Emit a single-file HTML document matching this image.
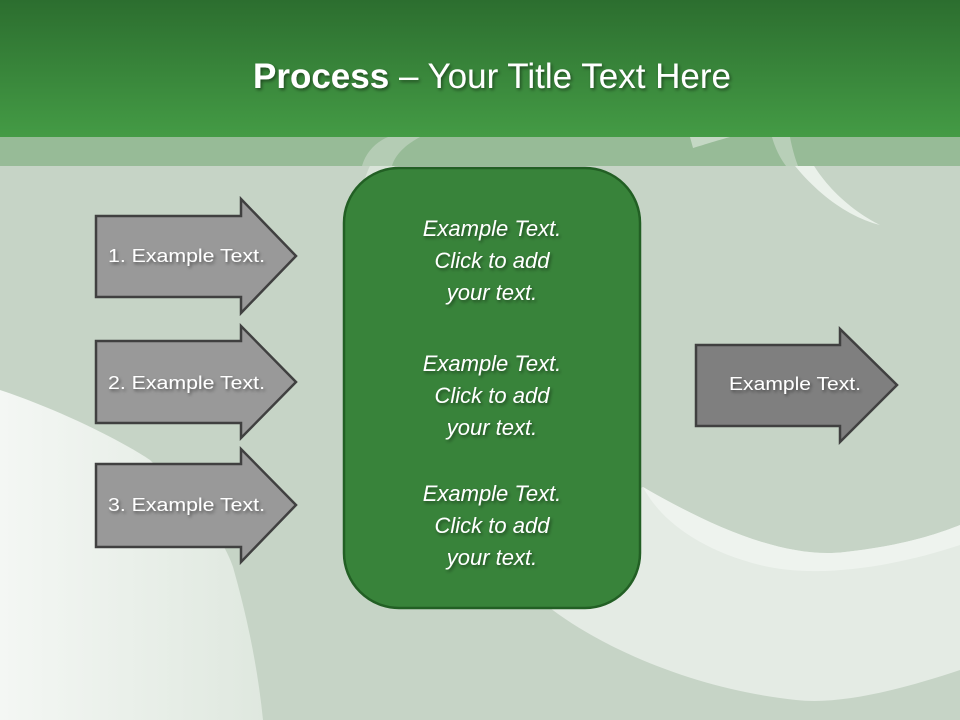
<!DOCTYPE html>
<html><head><meta charset="utf-8"><style>
html,body{margin:0;padding:0;width:960px;height:720px;overflow:hidden;font-family:"Liberation Sans",sans-serif}
svg{display:block}
</style></head><body>
<svg width="960" height="720" viewBox="0 0 960 720" xmlns="http://www.w3.org/2000/svg">
<defs>
<linearGradient id="hd" x1="0" y1="0" x2="0" y2="1"><stop offset="0" stop-color="#2c6e2f"/><stop offset="1" stop-color="#449b45"/></linearGradient>
<linearGradient id="wl" x1="0" y1="0" x2="1" y2="0"><stop offset="0" stop-color="#f4f7f4"/><stop offset="1" stop-color="#dfe8df"/></linearGradient>
<filter id="sh" x="-10%" y="-10%" width="130%" height="140%"><feDropShadow dx="1.5" dy="2" stdDeviation="1.5" flood-color="#000" flood-opacity="0.45"/></filter>
</defs>
<rect width="960" height="720" fill="#c6d4c6"/>
<!-- left swoosh -->
<path d="M0 390 C60 410 120 440 150 460 C190 500 220 530 233 567 C248 620 258 670 263 720 L0 720 Z" fill="url(#wl)"/>
<!-- bottom right swoosh -->
<path d="M540 600 C580 560 610 500 643 487 C700 520 780 560 845 552 C900 546 935 535 960 525 L960 670 C900 690 840 705 796 700 C700 690 600 650 540 600 Z" fill="#e4ebe4"/>
<path d="M643 487 C700 520 780 560 845 552 C900 546 935 535 960 525 L960 545 C900 565 820 580 760 565 C700 550 660 520 643 487Z" fill="#eef3ee"/>
<!-- top right swoosh -->
<path d="M775 137 L800 137 C815 180 850 210 880 225 C840 215 800 180 775 137Z" fill="#eaf1ea"/>
<path d="M360 200 C365 170 375 150 395 137 L420 137 C395 160 385 180 380 205Z" fill="#d9e4d9"/>
<!-- header -->
<rect width="960" height="137" fill="url(#hd)"/>
<rect y="137" width="960" height="29" fill="#97bb97"/>
<path d="M362 166 C366 152 376 142 388 137 L420 137 C405 145 395 155 392 166Z" fill="#b4ccb4"/>
<path d="M690 137 L730 137 C712 142 700 146 693 148Z" fill="#c4d8c4"/>
<path d="M772 137 L790 137 C792 148 795 158 798 166 L786 166 C780 158 775 148 772 137Z" fill="#b8cfb8"/>
<text x="492" y="88" text-anchor="middle" fill="#fff" font-size="35" filter="url(#sh)"><tspan font-weight="bold">Process</tspan> – Your Title Text Here</text>
<!-- arrows -->
<g stroke="#404040" stroke-width="2.5" fill="#999">
<path d="M96 216 H241 V199 L296 256 L241 313 V297 H96Z"/>
<path d="M96 341 H241 V326 L296 382 L241 438 V423 H96Z"/>
<path d="M96 464 H241 V449 L296 505 L241 562 V547 H96Z"/>
<path d="M696 345 H840 V329 L897 385 L840 442 V426 H696Z" fill="#7f7f7f"/>
</g>
<g fill="#fff" font-size="18" filter="url(#sh)">
<text x="108" y="262" textLength="157" lengthAdjust="spacingAndGlyphs">1. Example Text.</text>
<text x="108" y="389" textLength="157" lengthAdjust="spacingAndGlyphs">2. Example Text.</text>
<text x="108" y="511" textLength="157" lengthAdjust="spacingAndGlyphs">3. Example Text.</text>
<text x="729" y="390" textLength="132" lengthAdjust="spacingAndGlyphs">Example Text.</text>
</g>
<!-- center box -->
<rect x="344" y="168" width="296" height="440" rx="55" ry="55" fill="#38833a" stroke="#225f24" stroke-width="2.5"/>
<g fill="#fff" font-size="22" font-style="italic" text-anchor="middle" filter="url(#sh)">
<text x="492" y="236">Example Text.</text><text x="492" y="268">Click  to add</text><text x="492" y="300">your text.</text>
<text x="492" y="371">Example Text.</text><text x="492" y="403">Click  to add</text><text x="492" y="435">your text.</text>
<text x="492" y="501">Example Text.</text><text x="492" y="533">Click  to add</text><text x="492" y="565">your text.</text>
</g>
</svg>
</body></html>
